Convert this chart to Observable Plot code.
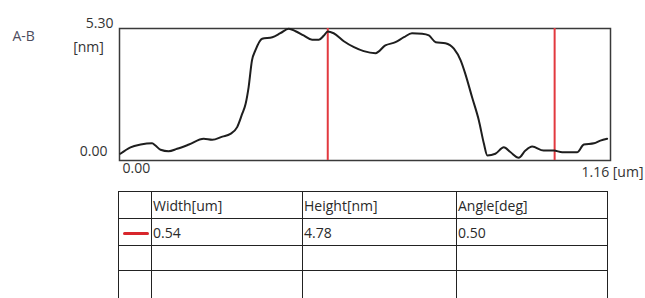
<!DOCTYPE html>
<html><head><meta charset="utf-8">
<script src="https://cdn.jsdelivr.net/npm/d3@7"></script>
<script src="https://cdn.jsdelivr.net/npm/@observablehq/plot@0.6"></script>
<style>
html,body{margin:0;padding:0;background:#fff;}
body{width:645px;height:298px;overflow:hidden;position:relative;font-family:"Open Sans",sans-serif;}
#chart{position:absolute;left:0;top:0;}
#tbl{position:absolute;left:118px;top:191px;border-collapse:collapse;table-layout:fixed;font-size:14px;color:#2a2a2a;}
#tbl td{border:1.6px solid #222;padding:0 0 0 1px;vertical-align:middle;white-space:nowrap;overflow:hidden;}
.dash{display:inline-block;width:26px;height:3px;background:#d8262c;border-radius:2px;vertical-align:middle;margin-left:3px;}
</style>
</head><body>
<div id="chart"></div>
<table id="tbl"></table>
<script>
// Profile A-B (x in um, height in nm)
const profileX = [0.002,0.026,0.050,0.077,0.085,0.097,0.116,0.136,0.164,0.199,0.219,0.243,0.262,0.278,0.290,0.298,0.305,0.313,0.321,0.337,0.361,0.380,0.400,0.416,0.435,0.455,0.471,0.483,0.492,0.506,0.530,0.554,0.577,0.605,0.628,0.652,0.672,0.691,0.715,0.731,0.747,0.770,0.790,0.806,0.817,0.833,0.849,0.861,0.869,0.888,0.908,0.924,0.943,0.959,0.975,1.002,1.026,1.046,1.081,1.097,1.121,1.136,1.152];
const profileY = [0.27,0.53,0.64,0.69,0.60,0.43,0.37,0.47,0.64,0.87,0.83,0.96,1.07,1.34,1.88,2.28,2.94,4.02,4.42,4.89,4.95,5.11,5.29,5.19,5.02,4.85,4.85,5.02,5.18,5.11,4.79,4.55,4.39,4.31,4.62,4.75,4.95,5.11,5.09,5.02,4.75,4.71,4.49,4.02,3.48,2.54,1.61,0.67,0.20,0.27,0.53,0.33,0.11,0.40,0.56,0.40,0.40,0.33,0.33,0.64,0.69,0.80,0.87];
const cursorX = [0.492, 1.028];
const xDomain = [0, 1.16];
const yDomain = [0, 5.30];
const yTickLabels = ["0.00", "5.30"];
const xTickLabels = ["0.00", "1.16 [um]"];
const yUnit = "[nm]";
const profileName = "A-B";
const tableHeaders = ["", "Width[um]", "Height[nm]", "Angle[deg]"];
const tableRow1 = ["0.54", "4.78", "0.50"];
const emptyRows = 2;

const data = profileX.map((x, i) => ({x, y: profileY[i]}));

const plot = Plot.plot({
  width: 645, height: 190,
  marginLeft: 119, marginRight: 35, marginTop: 28, marginBottom: 30,
  x: {domain: xDomain, axis: null},
  y: {domain: yDomain, axis: null},
  style: {fontFamily: "'Open Sans', sans-serif", fontSize: "14px", color: "#333", background: "#fff"},
  marks: [
    Plot.frame({stroke: "#3a3a3a", strokeWidth: 1.5}),
    Plot.ruleX(cursorX, {stroke: "#e2393f", strokeWidth: 2}),
    Plot.line(data, {x: "x", y: "y", stroke: "#1e1e1e", strokeWidth: 2, curve: "monotone-x"}),
    Plot.text([yTickLabels[1]], {frameAnchor: "top-left", textAnchor: "end", dx: -6, dy: -10, fill: "#333"}),
    Plot.text([yUnit], {frameAnchor: "top-left", textAnchor: "middle", dx: -31, dy: 14, fill: "#333"}),
    Plot.text([yTickLabels[0]], {frameAnchor: "bottom-left", textAnchor: "end", dx: -12, dy: -5, fill: "#333"}),
    Plot.text([profileName], {frameAnchor: "top-left", textAnchor: "start", dx: -107, dy: 3, fill: "#4d4d5e"}),
    Plot.text([xTickLabels[0]], {frameAnchor: "bottom-left", textAnchor: "start", dx: 3, dy: 12, fill: "#333"}),
    Plot.text([xTickLabels[1]], {frameAnchor: "bottom-right", textAnchor: "end", dx: 33, dy: 16, fill: "#333"})
  ]
});
document.getElementById("chart").appendChild(plot);

// measurement table
const colW = [33, 151, 154, 151];
const rowH = [27, 27, 25, 40];
const tbl = d3.select("#tbl");
const cg = tbl.append("colgroup");
colW.forEach(w => cg.append("col").style("width", w + "px"));
const hr = tbl.append("tr").style("height", rowH[0] + "px");
tableHeaders.forEach(h => hr.append("td").text(h));
const r1 = tbl.append("tr").style("height", rowH[1] + "px");
r1.append("td").append("span").attr("class", "dash");
tableRow1.forEach(v => r1.append("td").text(v));
for (let k = 0; k < emptyRows; k++) {
  const r = tbl.append("tr").style("height", rowH[2 + k] + "px");
  tableHeaders.forEach(() => r.append("td").html("&nbsp;"));
}
</script>
</body></html>
